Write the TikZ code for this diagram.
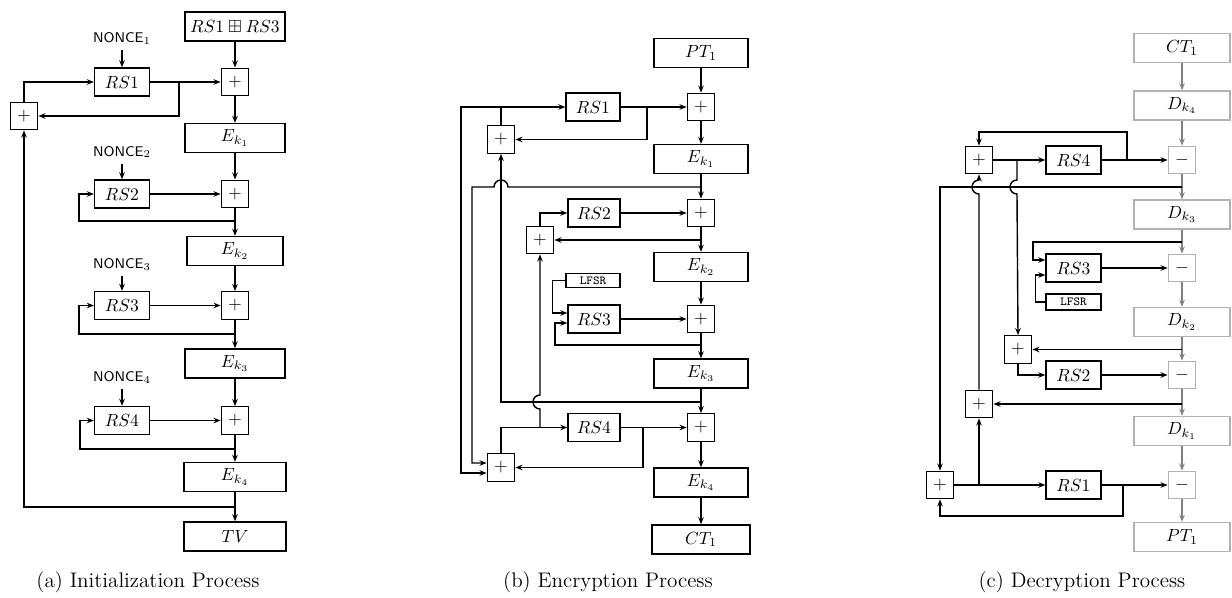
\documentclass[tikz,border=0pt]{standalone}
\usepackage{amsmath,amssymb}
\usetikzlibrary{arrows.meta}

\tikzset{
  >={Stealth[length=1.4mm,width=1.1mm]},
  wire/.style={line width=0.8pt},
  feed/.style={wire,->},
  cbox/.style={draw,line width=0.8pt,inner sep=0pt,minimum width=1.92cm,minimum height=0.58cm},
  rsbox/.style={draw,line width=0.8pt,inner sep=0pt,minimum width=1.1cm,minimum height=0.56cm},
  xorbox/.style={draw,line width=0.8pt,inner sep=0pt,minimum size=0.55cm},
  lfsrbox/.style={draw,line width=0.8pt,inner sep=0pt,minimum width=1.08cm,minimum height=0.28cm,font=\scriptsize\ttfamily},
  nonce/.style={font=\footnotesize\sffamily},
  pale/.style={draw=gray!60},
  subcap/.style={font=\large},
}

\begin{document}
\begin{tikzpicture}[x=0.02cm,y=-0.02cm]
\useasboundingbox (0,0) rectangle (1232,598);

% (a) initialization
\node[cbox,minimum width=2cm] (atop) at (235,26.5) {$RS1\boxplus RS3$};
\node[nonce] (an1) at (122,38) {NONCE$_1$};
\node[rsbox] (ars1) at (122,82) {$RS1$};
\node[xorbox] (ax1) at (235,82) {$+$};
\node[xorbox] (axl) at (24,116) {$+$};
\node[cbox,minimum width=2cm] (ae1) at (235,138) {$E_{k_1}$};
\node[nonce] (an2) at (122,152) {NONCE$_2$};
\node[rsbox] (ars2) at (122,194) {$RS2$};
\node[xorbox] (ax2) at (235,194) {$+$};
\node[cbox] (ae2) at (235,251) {$E_{k_2}$};
\node[nonce] (an3) at (122,264) {NONCE$_3$};
\node[rsbox] (ars3) at (122,305.5) {$RS3$};
\node[xorbox] (ax3) at (235,305.5) {$+$};
\node[cbox,minimum width=2cm] (ae3) at (235,363.5) {$E_{k_3}$};
\node[nonce] (an4) at (122,377) {NONCE$_4$};
\node[rsbox] (ars4) at (122,420.5) {$RS4$};
\node[xorbox] (ax4) at (235,420.5) {$+$};
\node[cbox,minimum width=2.04cm] (ae4) at (235,477) {$E_{k_4}$};
\node[cbox,minimum width=2.04cm] (atv) at (235,536.5) {$TV$};
\node[subcap] (acap) at (148,582) {(a) Initialization Process};

\draw[feed] (atop) -- (ax1);
\draw[feed] (ax1) -- (ae1);
\draw[feed] (ae1) -- (ax2);
\draw[feed] (ax2) -- (ae2);
\draw[feed] (ae2) -- (ax3);
\draw[feed] (ax3) -- (ae3);
\draw[feed] (ae3) -- (ax4);
\draw[feed] (ax4) -- (ae4);
\draw[feed] (ae4) -- (atv);
\draw[feed] (an1) -- (ars1);
\draw[feed] (an2) -- (ars2);
\draw[feed] (an3) -- (ars3);
\draw[feed] (an4) -- (ars4);
\draw[feed] (ars1) -- (ax1);
\draw[feed] (ars2) -- (ax2);
\draw[feed] (ars3) -- (ax3);
\draw[feed] (ars4) -- (ax4);
\coordinate (aj1) at (179,82);
\draw[feed] (aj1) |- (axl.east);
\draw[feed] (axl.north) |- (ars1.west);
\coordinate (aj2) at (235,221);
\draw[feed] (aj2) -- ++(-156,0) |- (ars2.west);
\coordinate (aj3) at (235,334);
\draw[feed] (aj3) -- ++(-156,0) |- (ars3.west);
\coordinate (aj4) at (235,449);
\draw[feed] (aj4) -- ++(-155,0) |- (ars4.west);
\coordinate (aj5) at (235,507);
\draw[feed] (aj5) -| (axl.south);

% (b) encryption
\node[cbox,minimum width=1.88cm] (bpt) at (701,53) {$PT_1$};
\node[xorbox] (bx1) at (701,107) {$+$};
\node[rsbox,minimum width=1.08cm] (brs1) at (593,107) {$RS1$};
\node[xorbox] (bxl1) at (501,139.5) {$+$};
\node[cbox,minimum width=1.88cm] (be1) at (701,159) {$E_{k_1}$};
\node[xorbox] (bx2) at (701,213) {$+$};
\node[rsbox,minimum width=1.04cm] (brs2) at (594,213) {$RS2$};
\node[xorbox] (bxl2) at (540,240) {$+$};
\node[cbox,minimum width=1.88cm] (be2) at (701,267) {$E_{k_2}$};
\node[lfsrbox] (blfsr) at (593,280.5) {LFSR};
\node[rsbox,minimum width=1.04cm] (brs3) at (594,319) {$RS3$};
\node[xorbox] (bx3) at (701,319) {$+$};
\node[cbox,minimum width=1.88cm] (be3) at (701,373.5) {$E_{k_3}$};
\node[xorbox] (bx4) at (701,427.5) {$+$};
\node[rsbox,minimum width=1.04cm] (brs4) at (594,427.5) {$RS4$};
\node[xorbox] (bxl4) at (501,467.5) {$+$};
\node[cbox,minimum width=1.88cm] (be4) at (701,482.5) {$E_{k_4}$};
\node[cbox,minimum width=1.96cm] (bct) at (701,539.5) {$CT_1$};
\node[subcap] (bcap) at (608,582) {(b) Encryption Process};

\draw[feed] (bpt) -- (bx1);
\draw[feed] (bx1) -- (be1);
\draw[feed] (be1) -- (bx2);
\draw[feed] (bx2) -- (be2);
\draw[feed] (be2) -- (bx3);
\draw[feed] (bx3) -- (be3);
\draw[feed] (be3) -- (bx4);
\draw[feed] (bx4) -- (be4);
\draw[feed] (be4) -- (bct);
\draw[feed] (brs1) -- (bx1);
\draw[feed] (brs2) -- (bx2);
\draw[feed] (brs3) -- (bx3);
\draw[feed] (brs4) -- (bx4);
\coordinate (bj1) at (647,107);
\draw[feed] (bj1) |- (bxl1.east);
\draw[feed] (bxl1.north) |- (brs1.west);
\draw[feed] (bxl1.north |- brs1.west) -- ++(-40,0) |- ([yshift=-0.11cm]bxl4.west);
\coordinate (bj2) at (701,187);
\draw[feed] (bj2) -- (508,187) arc[start angle=0,end angle=180,radius=0.14cm]
  -- (472,187) |- ([yshift=0.09cm]bxl4.west);
\coordinate (bj3) at (701,402);
\draw[feed] (bj3) -| (bxl1.south);
\coordinate (bj4) at (701,240);
\draw[feed] (bj4) -- (bxl2.east);
\draw[feed] (bxl2.north) |- (brs2.west);
\draw[feed] (blfsr.west) -- ++(-13,0) |- ([yshift=0.12cm]brs3.west);
\coordinate (bj5) at (701,345);
\draw[feed] (bj5) -- ++(-146,0) |- ([yshift=-0.08cm]brs3.west);
\coordinate (bj6) at (643,427.5);
\draw[feed] (bj6) |- (bxl4.east);
\draw[feed] (bxl4.north) |- (brs4.west);
\coordinate (bj7) at (540,427.5);
\draw[feed] (bj7) -- (540,409) arc[start angle=-90,end angle=-270,radius=0.14cm]
  -- (bxl2.south);

% (c) decryption
\node[cbox,pale] (cct) at (1182,48) {$CT_1$};
\node[cbox,pale] (cd4) at (1182,105.5) {$D_{k_4}$};
\node[xorbox,pale] (cm4) at (1182,160) {$-$};
\node[rsbox] (crs4) at (1073.5,160) {$RS4$};
\node[xorbox] (cx4) at (979,160) {$+$};
\node[cbox,pale] (cd3) at (1182,214.5) {$D_{k_3}$};
\node[rsbox] (crs3) at (1073.5,268) {$RS3$};
\node[xorbox,pale] (cm3) at (1182,268) {$-$};
\node[lfsrbox,minimum width=1.1cm,minimum height=0.32cm] (clfsr) at (1073.5,302) {LFSR};
\node[cbox,pale] (cd2) at (1182,322) {$D_{k_2}$};
\node[xorbox] (cx2) at (1018,349.5) {$+$};
\node[rsbox] (crs2) at (1073.5,375) {$RS2$};
\node[xorbox,pale] (cm2) at (1182,375) {$-$};
\node[xorbox] (cx3) at (979,404) {$+$};
\node[cbox,pale] (cd1) at (1182,431) {$D_{k_1}$};
\node[xorbox,pale] (cm1) at (1182,485) {$-$};
\node[rsbox] (crs1) at (1073.5,485) {$RS1$};
\node[xorbox] (cx1) at (940,485) {$+$};
\node[cbox,pale] (cpt) at (1182,537) {$PT_1$};
\node[subcap] (ccap) at (1082,582) {(c) Decryption Process};

\draw[feed,gray] (cct) -- (cd4);
\draw[feed,gray] (cd4) -- (cm4);
\draw[feed,gray] (cm4) -- (cd3);
\draw[feed,gray] (cd3) -- (cm3);
\draw[feed,gray] (cm3) -- (cd2);
\draw[feed,gray] (cd2) -- (cm2);
\draw[feed,gray] (cm2) -- (cd1);
\draw[feed,gray] (cd1) -- (cm1);
\draw[feed,gray] (cm1) -- (cpt);
\draw[feed] (crs4) -- (cm4);
\draw[feed] (crs3) -- (cm3);
\draw[feed] (crs2) -- (cm2);
\draw[feed] (crs1) -- (cm1);
\draw[feed] (cx4) -- (crs4);
\coordinate (cj1) at (1127,160);
\draw[feed] (cj1) -- ++(0,-28) -| (cx4.north);
\coordinate (cj2) at (1017,160);
\draw[feed] (cj2) -- (1017,180) arc[start angle=90,end angle=270,radius=0.14cm]
  -- (cx2.north);
\draw[feed] (cx3.north) -- (979,194) arc[start angle=-90,end angle=-270,radius=0.14cm]
  -- (cx4.south);
\coordinate (cj3) at (1182,187);
\draw[feed] (cj3) -| (cx1.north);
\coordinate (cj4) at (1182,242);
\draw[feed] (cj4) -- ++(-149,0) |- ([yshift=0.16cm]crs3.west);
\draw[feed] (clfsr.west) -- ++(-10,0) |- ([yshift=-0.14cm]crs3.west);
\coordinate (cj5) at (1182,349.5);
\draw[feed] (cj5) -- (cx2.east);
\draw[feed] (cx2.south) |- (crs2.west);
\coordinate (cj6) at (1182,404);
\draw[feed] (cj6) -- (cx3.east);
\draw[feed] (cx1) -- (crs1);
\coordinate (cj7) at (979,485);
\draw[feed] (cj7) -- (cx3.south);
\coordinate (cj8) at (1123,485);
\draw[feed] (cj8) -- ++(0,31) -| (cx1.south);
\end{tikzpicture}
\end{document}
